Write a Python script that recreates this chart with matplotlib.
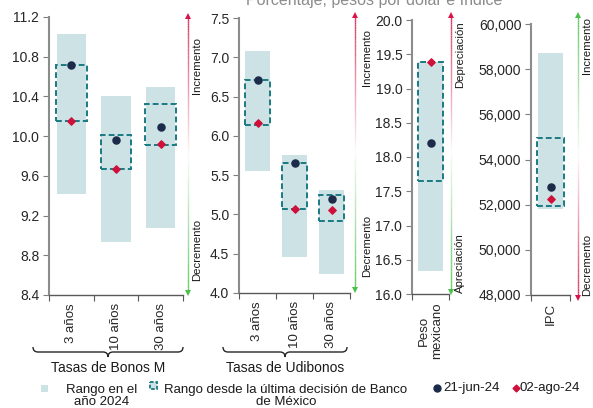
import numpy as np
import matplotlib.pyplot as plt
from matplotlib.collections import LineCollection
from matplotlib.path import Path
from matplotlib.patches import PathPatch, Rectangle
from matplotlib.ticker import FuncFormatter
from matplotlib.colors import to_rgba

plt.rcParams['font.family'] = ['Liberation Sans', 'DejaVu Sans']

# Datos
bonos_cat = ['3 años', '10 años', '30 años']
bonos_rango_min = [9.42, 8.93, 9.07]
bonos_rango_max = [11.03, 10.40, 10.50]
bonos_caja_min = [10.15, 9.67, 9.91]
bonos_caja_max = [10.72, 10.01, 10.32]
bonos_jun = [10.72, 9.96, 10.09]
bonos_ago = [10.15, 9.67, 9.92]

udi_cat = ['3 años', '10 años', '30 años']
udi_rango_min = [5.55, 4.46, 4.24]
udi_rango_max = [7.08, 5.76, 5.31]
udi_caja_min = [6.14, 5.07, 4.92]
udi_caja_max = [6.71, 5.66, 5.25]
udi_jun = [6.71, 5.65, 5.20]
udi_ago = [6.16, 5.07, 5.06]

peso_cat = ['Peso\nmexicano']
peso_rango_min = [16.34]
peso_rango_max = [19.39]
peso_caja_min = [17.65]
peso_caja_max = [19.39]
peso_jun = [18.20]
peso_ago = [19.39]

ipc_cat = ['IPC']
ipc_rango_min = [51800]
ipc_rango_max = [58700]
ipc_caja_min = [51950]
ipc_caja_max = [54950]
ipc_jun = [52800]
ipc_ago = [52250]

# Colores
c_rango = '#cde2e5'
c_caja = '#1a7a82'
c_jun = '#1c2b4a'
c_ago = '#d0103a'
c_rojo = '#d6164a'
c_verde = '#4cc04c'

W, H = 593, 408
fig = plt.figure(figsize=(W / 100, H / 100), dpi=100)


def px_rect(x0, y0, x1, y1):
    return [x0 / W, 1 - y1 / H, (x1 - x0) / W, (y1 - y0) / H]


paneles = [
    (bonos_cat, bonos_rango_min, bonos_rango_max, bonos_caja_min, bonos_caja_max,
     bonos_jun, bonos_ago, px_rect(49, 17, 183, 295), (8.4, 11.2),
     np.arange(8.4, 11.21, 0.4), '{:.1f}'),
    (udi_cat, udi_rango_min, udi_rango_max, udi_caja_min, udi_caja_max,
     udi_jun, udi_ago, px_rect(239, 18, 350, 293), (4.0, 7.5),
     np.arange(4.0, 7.51, 0.5), '{:.1f}'),
    (peso_cat, peso_rango_min, peso_rango_max, peso_caja_min, peso_caja_max,
     peso_jun, peso_ago, px_rect(412, 20, 449, 294), (16.0, 20.0),
     np.arange(16.0, 20.01, 0.5), '{:.1f}'),
    (ipc_cat, ipc_rango_min, ipc_rango_max, ipc_caja_min, ipc_caja_max,
     ipc_jun, ipc_ago, px_rect(531, 24, 570, 295), (48000, 60000),
     np.arange(48000, 60001, 2000), '{:,.0f}'),
]

for cat, rmin, rmax, cmin, cmax, jun, ago, pos, ylim, yt, fmt in paneles:
    ax = fig.add_axes(pos)
    x = np.arange(len(cat))
    rmin, rmax = np.array(rmin), np.array(rmax)
    cmin, cmax = np.array(cmin), np.array(cmax)
    ax.bar(x, rmax - rmin, bottom=rmin, width=0.66, color=c_rango, zorder=1)
    ax.bar(x, cmax - cmin, bottom=cmin, width=0.68, fill=False,
           edgecolor=c_caja, linestyle=(0, (3, 1.6)), linewidth=1.4, zorder=2)
    ax.scatter(x, jun, marker='o', s=26, color=c_jun, zorder=4)
    ax.scatter(x, ago, marker='D', s=14, color=c_ago, zorder=4)

    ax.set_xlim(-0.5, len(cat) - 0.5)
    ax.set_ylim(*ylim)
    ax.set_yticks(yt)
    ax.yaxis.set_major_formatter(FuncFormatter(lambda v, p, f=fmt: f.format(v)))
    ax.set_xticks(np.arange(len(cat) + 1) - 0.5)
    ax.set_xticklabels([])
    ax.set_xticks(x, minor=True)
    ax.set_xticklabels(cat, minor=True, rotation=90, fontsize=9.5,
                       color='#262626', va='top', ha='center')
    ax.tick_params(axis='x', which='minor', length=0, pad=6)
    ax.tick_params(axis='x', which='major', length=4, color='#595959', direction='out')
    ax.tick_params(axis='y', length=4, color='#7f7f7f', labelsize=10,
                   labelcolor='#262626', pad=3)
    for s in ['top', 'right']:
        ax.spines[s].set_visible(False)
    ax.spines['left'].set_color('#8c8c8c')
    ax.spines['left'].set_linewidth(1.5)
    ax.spines['bottom'].set_color('#595959')
    ax.spines['bottom'].set_linewidth(1.0)
    ax.set_facecolor('none')

# Capa superior en pixeles para flechas, llaves y leyenda
ov = fig.add_axes([0, 0, 1, 1], zorder=10)
ov.set_xlim(0, W)
ov.set_ylim(H, 0)
ov.axis('off')
ov.patch.set_visible(False)


def flecha(x, y_mid, y_end, color):
    n = 60
    ys = np.linspace(y_mid, y_end, n + 1)
    segs = [[(x, ys[i]), (x, ys[i + 1])] for i in range(n)]
    r, g, b, _ = to_rgba(color)
    cols = [(r, g, b, a) for a in np.linspace(0.03, 0.9, n)]
    ov.add_collection(LineCollection(segs, colors=cols, linewidths=1.0))
    ov.plot([x], [y_end], marker='^' if y_end < y_mid else 'v',
            markersize=4.5, color=color, markeredgewidth=0)


def etiqueta(x, y, s):
    ov.text(x, y, s, rotation=90, ha='center', va='center', fontsize=8.2,
            color='#1a1a1a')


flecha(188, 155, 16, c_rojo)
flecha(188, 155, 293, c_verde)
etiqueta(197, 65, 'Incremento')
etiqueta(197, 250, 'Decremento')

flecha(355, 150, 15, c_rojo)
flecha(355, 150, 290, c_verde)
etiqueta(367, 57, 'Incremento')
etiqueta(367, 246, 'Decremento')

flecha(451, 150, 15, c_rojo)
flecha(451, 150, 292, c_verde)
etiqueta(460, 55, 'Depreciación')
etiqueta(460, 263, 'Apreciación')

flecha(578, 155, 15, c_verde)
flecha(578, 155, 298, c_rojo)
etiqueta(587, 45, 'Incremento')
etiqueta(587, 265, 'Decremento')


def llave(x0, x1, y, xm):
    verts = [(x0, y - 5), (x0, y), (x0 + 5, y), (xm - 5, y), (xm, y),
             (xm, y + 5), (xm, y), (xm + 5, y), (x1 - 5, y), (x1, y), (x1, y - 5)]
    codes = [Path.MOVETO, Path.CURVE3, Path.CURVE3, Path.LINETO, Path.CURVE3,
             Path.CURVE3, Path.CURVE3, Path.CURVE3, Path.LINETO, Path.CURVE3,
             Path.CURVE3]
    ov.add_patch(PathPatch(Path(verts, codes), fill=False, edgecolor='#262626',
                           linewidth=1.0))


llave(33, 183, 352, 108)
ov.text(108, 368, 'Tasas de Bonos M', ha='center', va='center', fontsize=10,
        color='#1a1a1a')
llave(223, 347, 352, 285)
ov.text(285, 368, 'Tasas de Udibonos', ha='center', va='center', fontsize=10,
        color='#1a1a1a')

# Titulo (cortado en la parte superior, como en la referencia)
ov.text(374, 5, 'Porcentaje, pesos por dólar e índice', ha='center',
        va='baseline', fontsize=11.5, color='#8c8c8c')

# Leyenda
ov.add_patch(Rectangle((41, 385), 7, 7, facecolor=c_rango, edgecolor='none'))
ov.text(102, 396, 'Rango en el\naño 2024', ha='center', va='center',
        fontsize=9.5, color='#1a1a1a', linespacing=1.0)
ov.add_patch(Rectangle((150, 382), 7, 7, facecolor=c_rango, edgecolor=c_caja,
                       linestyle=(0, (2, 1)), linewidth=1.3))
ov.text(286, 396, 'Rango desde la última decisión de Banco\nde México',
        ha='center', va='center', fontsize=9.5, color='#1a1a1a', linespacing=1.0)
ov.plot([437], [388], marker='o', markersize=5, color=c_jun)
ov.text(443, 388, '21-jun-24', ha='left', va='center', fontsize=9.5,
        color='#1a1a1a')
ov.plot([516], [388], marker='D', markersize=3.5, color=c_ago)
ov.text(520, 388, '02-ago-24', ha='left', va='center', fontsize=9.5,
        color='#1a1a1a')

fig.savefig('out.png', dpi=100)
